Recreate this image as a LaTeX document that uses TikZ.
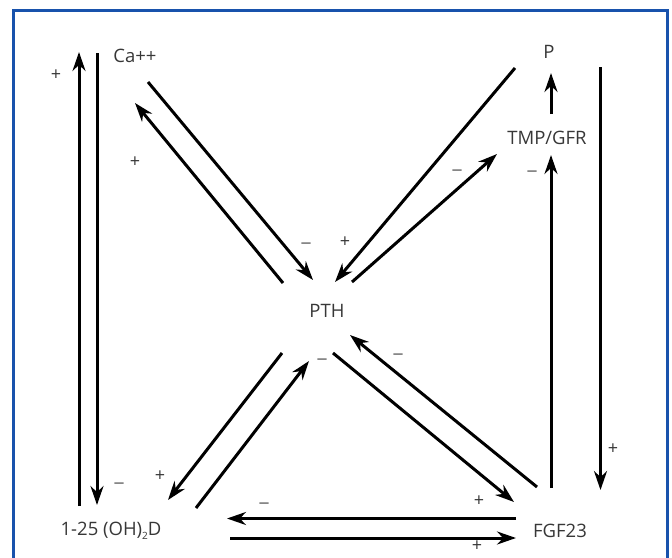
\documentclass[tikz,border=0pt]{standalone}
\usepackage{fontspec}
\setmainfont{Open Sans}
\usetikzlibrary{arrows.meta}
\definecolor{framblue}{RGB}{24,82,172}
\definecolor{labgray}{RGB}{55,55,55}
\definecolor{minusgray}{RGB}{125,125,125}

\begin{document}
\begin{tikzpicture}[x=1pt,y=-1pt,->,>={Stealth[length=19pt,width=13pt]},line width=3pt,
  main node/.style={font=\fontsize{18.5}{20}\selectfont,text=labgray,inner sep=0pt},
  plus/.style={font=\fontsize{18}{18}\selectfont,text=labgray,inner sep=0pt},
  minus/.style={font=\fontsize{22}{18}\selectfont,text=minusgray,inner sep=0pt}]
  \useasboundingbox (0,0) rectangle (672,557);
  \draw[-,framblue,line width=3pt] (13.5,560) -- (13.5,10.5) -- (667,10.5) -- (667,560);
  \node[main node] (ca) at (135,56) {Ca++};
  \node[main node] (p) at (549,52) {P};
  \node[main node] (tmp) at (547,138) {TMP/GFR};
  \node[main node] (pth) at (327,311) {PTH};
  \node[main node] (vitd) at (111,531) {1-25 (OH)\raisebox{-0.35ex}{\fontsize{10}{10}\selectfont 2}D};
  \node[main node] (fgf) at (560,531) {FGF23};
  % arrow ends
  \coordinate (vitd-up) at (79,506);   \coordinate (ca-in) at (79,52);
  \coordinate (ca-down) at (97,53);    \coordinate (vitd-in) at (97,505);
  \coordinate (ca-out) at (148,82);    \coordinate (pth-in1) at (313,280);
  \coordinate (pth-out1) at (283,283); \coordinate (ca-in2) at (135,103);
  \coordinate (p-out) at (515,68);     \coordinate (pth-in2) at (335,282);
  \coordinate (pth-out2) at (352,282); \coordinate (tmp-in) at (497,154);
  \coordinate (tmp-out) at (551,114);  \coordinate (p-in) at (551,73);
  \coordinate (fgf-up) at (551,488);   \coordinate (tmp-in2) at (551,155);
  \coordinate (p-down) at (600.5,67);  \coordinate (fgf-in) at (600.5,490);
  \coordinate (fgf-out) at (537,487);  \coordinate (pth-in3) at (350,335);
  \coordinate (pth-out3) at (333,353); \coordinate (fgf-in2) at (514,502);
  \coordinate (pth-out4) at (282,353); \coordinate (vitd-in2) at (168,500);
  \coordinate (vitd-out) at (196,508); \coordinate (pth-in4) at (309,361);
  \coordinate (fgf-left) at (516,518.5); \coordinate (vitd-in3) at (227,518.5);
  \coordinate (vitd-right) at (230,538); \coordinate (fgf-in3) at (516,538);
  \path (vitd-up) edge (ca-in)
     (ca-down) edge (vitd-in)
     (ca-out) edge (pth-in1)
     (pth-out1) edge (ca-in2)
     (p-out) edge (pth-in2)
     (pth-out2) edge (tmp-in)
     (tmp-out) edge (p-in)
     (fgf-up) edge (tmp-in2)
     (p-down) edge (fgf-in)
     (fgf-out) edge (pth-in3)
     (pth-out3) edge (fgf-in2)
     (pth-out4) edge (vitd-in2)
     (vitd-out) edge (pth-in4)
     (fgf-left) edge (vitd-in3)
     (vitd-right) edge (fgf-in3);
  % signs
  \node[plus] (s1) at (56,75) {+};
  \node[minus] (s2) at (119,486) {–};
  \node[plus] (s3) at (135,162) {+};
  \node[minus] (s4) at (306,246) {–};
  \node[plus] (s5) at (345,242) {+};
  \node[minus] (s6) at (457,173) {–};
  \node[minus] (s7) at (532,174) {–};
  \node[plus] (s8) at (613,449) {+};
  \node[minus] (s9) at (398,357) {–};
  \node[plus] (s10) at (479,501) {+};
  \node[minus] (s11) at (322,362) {–};
  \node[plus] (s12) at (160,476) {+};
  \node[minus] (s13) at (264,506) {–};
  \node[plus] (s14) at (477,546) {+};
\end{tikzpicture}
\end{document}
